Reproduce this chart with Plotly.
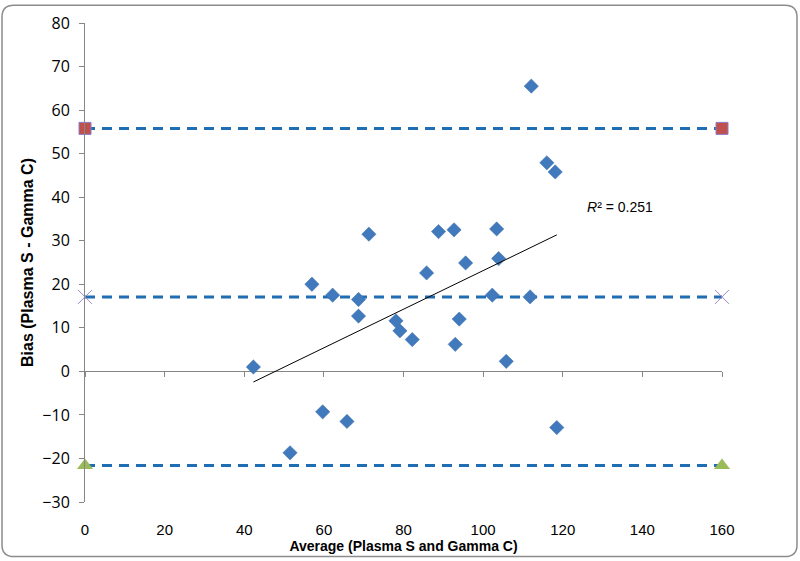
import numpy as np
import plotly.graph_objects as go

# Bland-Altman data
avg_x = [42.3, 51.5, 57.0, 59.7, 62.2, 65.8, 68.7, 68.7, 71.3, 78.1, 79.1, 82.2,
         85.8, 88.8, 92.7, 93.0, 94.0, 95.6, 102.3, 103.4, 103.9, 105.8, 111.8,
         112.1, 116.0, 118.1, 118.5]
bias_y = [1.0, -18.7, 20.0, -9.3, 17.5, -11.5, 16.5, 12.7, 31.5, 11.6, 9.3, 7.3,
          22.6, 32.1, 32.5, 6.2, 12.0, 24.9, 17.5, 32.7, 25.9, 2.3, 17.1,
          65.5, 47.9, 45.8, -12.9]

line_x = [0, 160]
mean_bias = 17.1
upper_loa = 55.8
lower_loa = -21.6
r2_label = "0.251"

x_ticks = [0, 20, 40, 60, 80, 100, 120, 140, 160]
y_ticks = [-30, -20, -10, 0, 10, 20, 30, 40, 50, 60, 70, 80]

slope, intercept = np.polyfit(avg_x, bias_y, 1)
trend_x = [min(avg_x), max(avg_x)]
trend_y = [slope * v + intercept for v in trend_x]

LINE_BLUE = "#1F6DB3"
fig = go.Figure()

fig.add_trace(go.Scatter(
    x=line_x, y=[upper_loa, upper_loa], mode="lines+markers",
    line=dict(color=LINE_BLUE, width=3, dash="10px,7px"),
    marker=dict(symbol="square", size=12, color="#C0504D",
                line=dict(color="#8E7CC3", width=1)),
    cliponaxis=False, showlegend=False))
fig.add_trace(go.Scatter(
    x=line_x, y=[mean_bias, mean_bias], mode="lines+markers",
    line=dict(color=LINE_BLUE, width=3, dash="10px,7px"),
    marker=dict(symbol="x-thin-open", size=14, color="#9A8BC8",
                line=dict(color="#9A8BC8", width=1)),
    cliponaxis=False, showlegend=False))
fig.add_trace(go.Scatter(
    x=line_x, y=[lower_loa, lower_loa], mode="lines+markers",
    line=dict(color=LINE_BLUE, width=3, dash="10px,7px"),
    marker=dict(symbol="triangle-up", size=14, color="#9BBB59",
                line=dict(color="#9BBB59", width=0)),
    cliponaxis=False, showlegend=False))

fig.add_trace(go.Scatter(
    x=trend_x, y=trend_y, mode="lines", xaxis="x2",
    line=dict(color="#000000", width=1), showlegend=False))

fig.add_trace(go.Scatter(
    x=avg_x, y=bias_y, mode="markers",
    marker=dict(symbol="diamond", size=11, color="#4179BD",
                line=dict(color="#3A6CA8", width=0.5)),
    cliponaxis=False, showlegend=False))

fig.add_annotation(x=134.5, y=37.8, xref="x", yref="y",
                   text="<i>R</i>² = " + r2_label, showarrow=False,
                   font=dict(family="Liberation Sans", size=14, color="#000"))

# rounded chart border
w, h = 637.0, 483.0
def px(v): return (v - 85) / w
def py(v): return (503 - v) / h
r = 12
x0, x1, y0, y1 = 2, 797, 2, 558
path = (f"M {px(x0 + r)} {py(y0)} L {px(x1 - r)} {py(y0)} "
        f"Q {px(x1)} {py(y0)} {px(x1)} {py(y0 + r)} L {px(x1)} {py(y1 - r)} "
        f"Q {px(x1)} {py(y1)} {px(x1 - r)} {py(y1)} L {px(x0 + r)} {py(y1)} "
        f"Q {px(x0)} {py(y1)} {px(x0)} {py(y1 - r)} L {px(x0)} {py(y0 + r)} "
        f"Q {px(x0)} {py(y0)} {px(x0 + r)} {py(y0)} Z")
fig.add_shape(type="path", path=path, xref="paper", yref="paper",
              line=dict(color="#8C8C8C", width=1.5), layer="above")

fig.update_layout(
    width=800, height=561,
    margin=dict(l=85, r=78, t=20, b=58),
    paper_bgcolor="white", plot_bgcolor="white",
    font=dict(family="Liberation Sans", color="#000"),
    xaxis=dict(range=[0, 160], tickvals=x_ticks, showgrid=False, zeroline=False,
               showline=False, ticks="outside", ticklen=14,
               tickcolor="rgba(0,0,0,0)",
               tickfont=dict(family="Liberation Sans", size=15),
               title=dict(text="<b>Average (Plasma S and Gamma C)</b>",
                          font=dict(family="Liberation Sans", size=14),
                          standoff=1)),
    xaxis2=dict(range=[0, 160], tickvals=x_ticks, overlaying="x", anchor="free",
                position=30 / 110, side="bottom", showgrid=False, zeroline=False,
                showline=False, ticks="outside", ticklen=5, tickcolor="#868686",
                showticklabels=False),
    yaxis=dict(range=[-30, 80], tickvals=y_ticks, showgrid=False,
               zeroline=True, zerolinecolor="#868686", zerolinewidth=1,
               showline=True, linecolor="#868686", linewidth=1,
               ticks="outside", ticklen=5, tickcolor="#868686",
               ticklabelstandoff=6,
               tickfont=dict(family="Open Sans", size=16),
               title=dict(text="<b>Bias (Plasma S - Gamma C)</b>",
                          font=dict(family="Liberation Sans", size=16),
                          standoff=4)),
)

fig.write_html("out.html")
